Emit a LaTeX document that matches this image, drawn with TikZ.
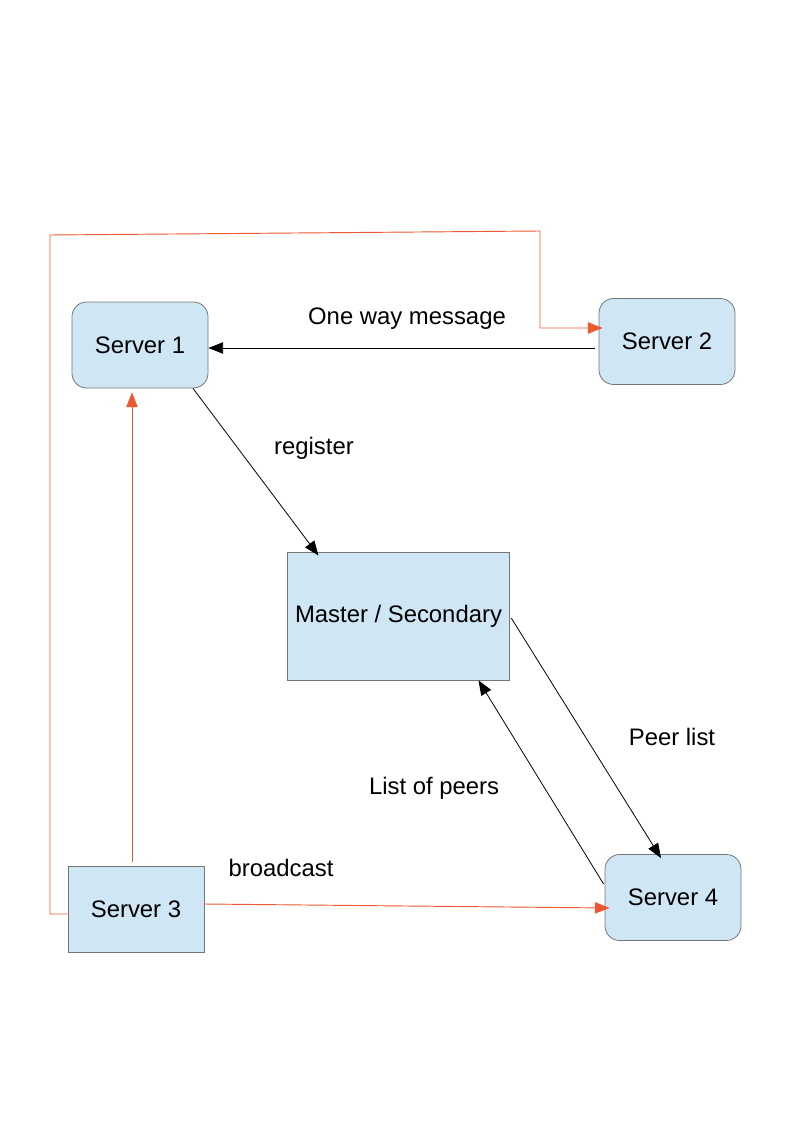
\documentclass[tikz,border=0pt]{standalone}
\usepackage{fontspec}
\setmainfont{Liberation Sans}
\usetikzlibrary{arrows.meta,calc}
\definecolor{boxfill}{RGB}{207,230,244}
\definecolor{boxline}{RGB}{118,118,118}
\definecolor{bcast}{RGB}{236,88,48}
\begin{document}
\begin{tikzpicture}[x=0.75pt, y=-0.75pt, >={Triangle[length=11pt,width=8.5pt]},
		every node/.style={font=\fontsize{17.9}{21}\selectfont},
		server/.style={draw=boxline, fill=boxfill, line width=0.6pt, minimum width=102pt, minimum height=64.5pt, inner sep=0pt},
		srvround/.style={server, rounded corners=11pt},
		msg/.style={->, line width=0.6pt},
		redmsg/.style={->, draw=bcast, line width=0.7pt}]
	% page
	\useasboundingbox (0,0) rectangle (794,1123);
	
	% servers
	\node[srvround] (s1) at (140,345) {Server 1};
	\node[srvround] (s2) at (667,341.5) {Server 2};
	\node[server] (s3) at (136,909) {Server 3};
	\node[srvround] (s4) at (673,897.5) {Server 4};
	
	% master
	\node[server, minimum width=167pt, minimum height=96pt] (ms) at (398.5,616) {Master / Secondary};
	
	% labels
	\node (lbmsg) at (407,319) {One way message};
	\node (lbreg) at (314,448) {register};
	\node (lbpeer) at (672,737) {Peer list};
	\node (lblist) at (434,788) {List of peers};
	\node (lbcast) at (281,868) {broadcast};
	
	% black messages
	\draw[msg] ($(s2.west)+(-4,6.5)$) -- ($(s1.east)+(0,3)$);
	\draw[msg] ($(s1.south)+(53,0)$) -- ($(ms.north)+(-80,4)$);
	\draw[msg] ($(ms.east)+(1,2)$) -- ($(s4.north)+(-12,4)$);
	\draw[msg] ($(s4.west)+(-1,-13.5)$) -- ($(ms.south)+(80,0)$);
	
	% red broadcast from server 3
	\draw[redmsg] ($(s3.north)+(-4,-4)$) -- ($(s1.south)+(-8,4)$);
	\draw[redmsg] ($(s3.east)+(0,-5)$) -- ($(s4.west)+(5,10.5)$);
	\coordinate (loopL) at (50,235);
	\coordinate (loopR) at (540,231);
	\draw[redmsg] ($(s3.west)+(0,5)$) -- (loopL |- {$(s3.west)+(0,5)$}) -- (loopL) -- (loopR) -- (loopR |- {$(s2.west)+(0,-13.5)$}) -- ($(s2.west)+(4,-13.5)$);
\end{tikzpicture}
\end{document}
